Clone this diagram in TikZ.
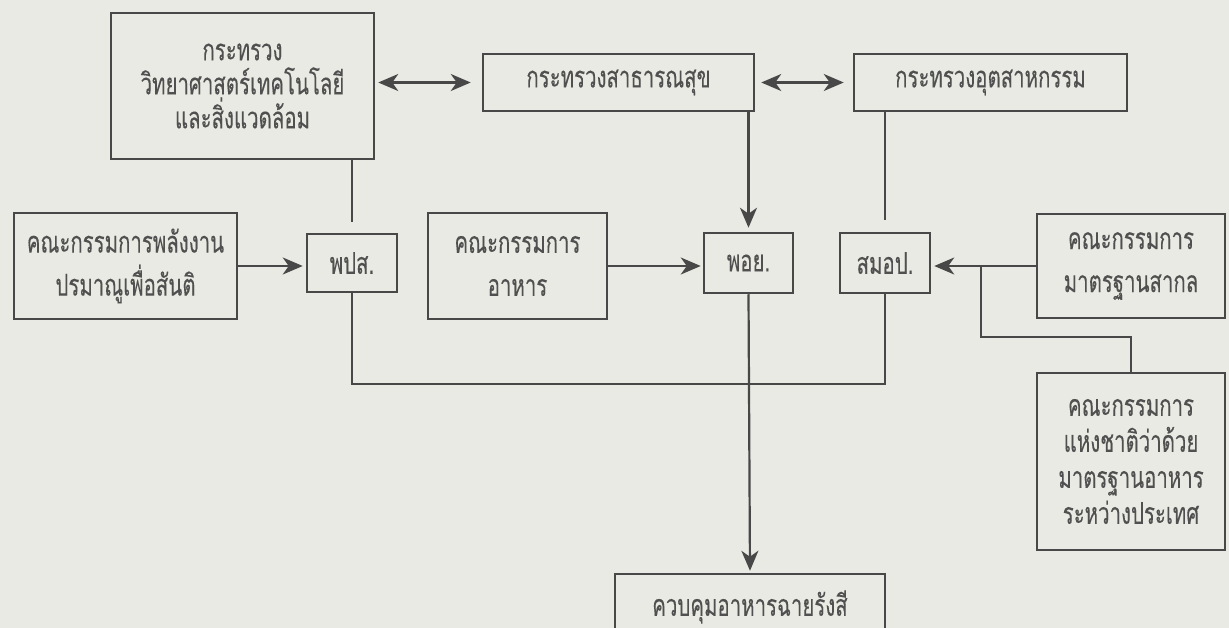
\documentclass[tikz,border=0pt]{standalone}
\usepackage{fontspec}
\newfontfamily\thaifont[Script=Thai, FakeStretch=0.68, FakeBold=0.2]{Loma}
\usetikzlibrary{arrows.meta}
\definecolor{paper}{HTML}{E9EAE3}
\definecolor{ink}{HTML}{484848}
\definecolor{txt}{HTML}{505050}
\tikzset{
  box/.style={draw=ink, line width=2.5pt, fill=paper, inner sep=0pt, text=txt, align=center,
    font=\thaifont\fontsize{30}{34}\selectfont},
  sp34/.style={font=\thaifont\fontsize{30}{34}\selectfont},
  sp36/.style={font=\thaifont\fontsize{30}{36}\selectfont},
  sp43/.style={font=\thaifont\fontsize{30}{43}\selectfont},
  conn/.style={draw=ink, line width=2.2pt},
  arrowto/.style={-{Stealth[length=20pt,width=17pt,inset=6pt]}},
  arrowboth/.style={{Stealth[length=20pt,width=17pt,inset=6pt]}-{Stealth[length=20pt,width=17pt,inset=6pt]}},
}
\begin{document}
\begin{tikzpicture}[x=1pt,y=-1pt]
\fill[paper] (0,0) rectangle (1229,628);
\useasboundingbox (0,0) rectangle (1229,628);
\clip (0,0) rectangle (1229,628);

\node[box, minimum width=263pt, minimum height=146pt, sp34] (mst) at (242.5,86) {กระทรวง\\วิทยาศาสตร์เทคโนโลยี\\และสิ่งแวดล้อม};
\node[box, minimum width=271pt, minimum height=57pt] (moph) at (618.5,82.5) {กระทรวงสาธารณสุข};
\node[box, minimum width=273pt, minimum height=57pt] (moi) at (990.5,82.5) {กระทรวงอุตสาหกรรม};
\node[box, minimum width=223pt, minimum height=106pt, sp43] (oaep) at (125.5,266) {คณะกรรมการพลังงาน\\ปรมาณูเพื่อสันติ};
\node[box, minimum width=90pt, minimum height=58pt] (pps) at (352,263) {พปส.};
\node[box, minimum width=179pt, minimum height=106pt, sp43] (food) at (517.5,266) {คณะกรรมการ\\อาหาร};
\node[box, minimum width=89pt, minimum height=60pt] (poy) at (748.5,263) {พอย.};
\node[box, minimum width=90pt, minimum height=60pt] (smop) at (885,263) {สมอป.};
\node[box, minimum width=188pt, minimum height=104pt, sp43] (iso) at (1131,266) {คณะกรรมการ\\มาตรฐานสากล};
\node[box, minimum width=188pt, minimum height=177pt, sp36] (codex) at (1131,461.5) {คณะกรรมการ\\แห่งชาติว่าด้วย\\มาตรฐานอาหาร\\ระหว่างประเทศ};
\node[box, minimum width=270pt, minimum height=66pt] (irr) at (750,607) {ควบคุมอาหารฉายรังสี};

\draw[conn, arrowboth, shorten <=3pt, shorten >=11pt] (mst.east |- moph.west) -- (moph.west);
\draw[conn, arrowboth, shorten <=6pt, shorten >=9pt] (moph.east) -- (moi.west);
\draw[conn, shorten >=11pt] (pps.north |- mst.south) -- (pps.north);
\draw[conn, arrowto, shorten >=3pt] (oaep.east) -- (oaep.east -| pps.west);
\draw[conn, arrowto, shorten >=2pt] (food.east) -- (food.east -| poy.west);
\draw[conn, arrowto, shorten >=4pt] (poy.north |- moph.south) -- (poy.north);
\draw[conn, shorten >=12pt] (smop.north |- moi.south) -- (smop.north);
\draw[conn, arrowto, shorten >=3pt] (iso.west) -- (iso.west -| smop.east);
\path (iso.west) ++(-55,0) coordinate (j);
\draw[conn] (j) -- ++(0,71) -| (codex.north);
\draw[conn] (pps.south) -- ++(0,91) -| (smop.south);
\draw[conn, arrowto, shorten >=2pt] (poy.south) -- (irr.north);
\end{tikzpicture}
\end{document}
